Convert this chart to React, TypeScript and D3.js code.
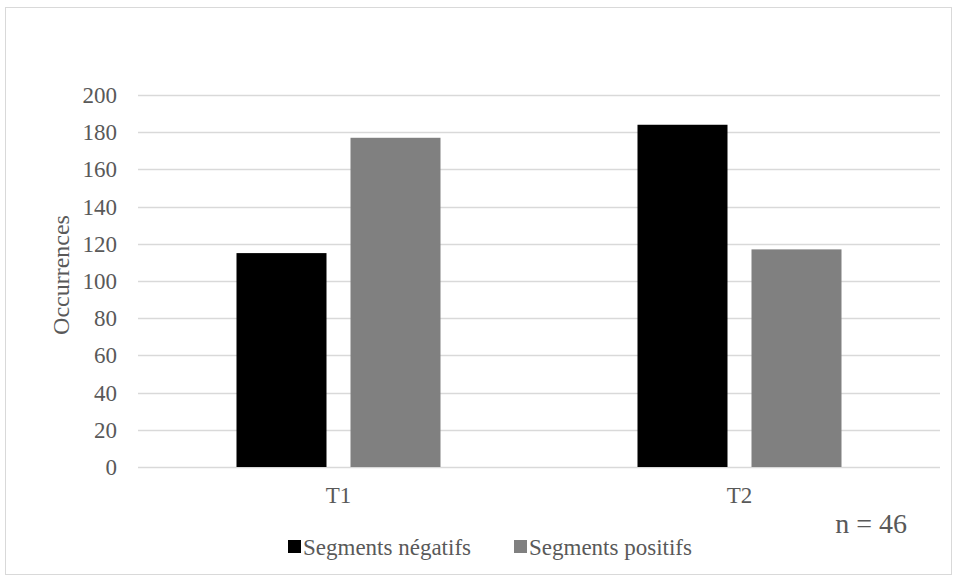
import React from "react";
import * as d3 from "d3";

const categories = ["T1", "T2"];
const seriesNames = ["Segments négatifs", "Segments positifs"];
const negatifs = [115, 184];
const positifs = [177, 117];
const yTicks = [0, 20, 40, 60, 80, 100, 120, 140, 160, 180, 200];
const seriesColors = ["#000000", "#808080"];

const W = 957;
const H = 580;
const margin = { left: 138, right: 17, top: 95, bottom: 113 };
const FONT = "'Liberation Serif', 'Times New Roman', serif";
const TEXT = "#595959";

export default function App() {
  const x0 = d3
    .scaleBand<string>()
    .domain(categories)
    .range([margin.left, W - margin.right])
    .paddingInner(0)
    .paddingOuter(0);
  const x1 = d3
    .scaleBand<string>()
    .domain(seriesNames)
    .range([0, x0.bandwidth()])
    .paddingInner(0.2105)
    .paddingOuter(0.864);
  const y = d3.scaleLinear().domain([0, 200]).range([H - margin.bottom, margin.top]);
  const values = [negatifs, positifs];

  return (
    <svg width={W} height={H} style={{ position: "absolute", left: 0, top: 0, background: "#fff" }}>
      <rect x={5.5} y={7.5} width={946} height={567} fill="#fff" stroke="#d9d9d9" strokeWidth={1} />
      {yTicks.map((t) => (
        <g key={t}>
          <line x1={margin.left} x2={W - margin.right} y1={Math.round(y(t)) + 0.5} y2={Math.round(y(t)) + 0.5} stroke="#d9d9d9" strokeWidth={1.5} />
          <text x={117} y={y(t)} dy="0.35em" textAnchor="end" fontFamily={FONT} fontSize={23} fill={TEXT}>
            {t}
          </text>
        </g>
      ))}
      {categories.map((c, i) => (
        <g key={c}>
          {seriesNames.map((s, j) => (
            <rect
              key={s}
              x={(x0(c) as number) + (x1(s) as number)}
              y={y(values[j][i])}
              width={x1.bandwidth()}
              height={y(0) - y(values[j][i])}
              fill={seriesColors[j]}
            />
          ))}
          <text x={(x0(c) as number) + x0.bandwidth() / 2} y={503} textAnchor="middle" fontFamily={FONT} fontSize={23} fill={TEXT}>
            {c}
          </text>
        </g>
      ))}
      <text
        transform={`translate(69, ${(y(0) + y(200)) / 2 - 6}) rotate(-90)`}
        textAnchor="middle"
        fontFamily={FONT}
        fontSize={24}
        fill={TEXT}
      >
        Occurrences
      </text>
      <text x={907} y={533} textAnchor="end" fontFamily={FONT} fontSize={28} fill={TEXT}>
        n = 46
      </text>
      <g>
        <rect x={288} y={540} width={13} height={13} fill={seriesColors[0]} />
        <text x={303} y={555} fontFamily={FONT} fontSize={23} fill={TEXT}>
          {seriesNames[0]}
        </text>
        <rect x={514} y={540} width={13} height={13} fill={seriesColors[1]} />
        <text x={529} y={555} fontFamily={FONT} fontSize={23} fill={TEXT}>
          {seriesNames[1]}
        </text>
      </g>
    </svg>
  );
}
